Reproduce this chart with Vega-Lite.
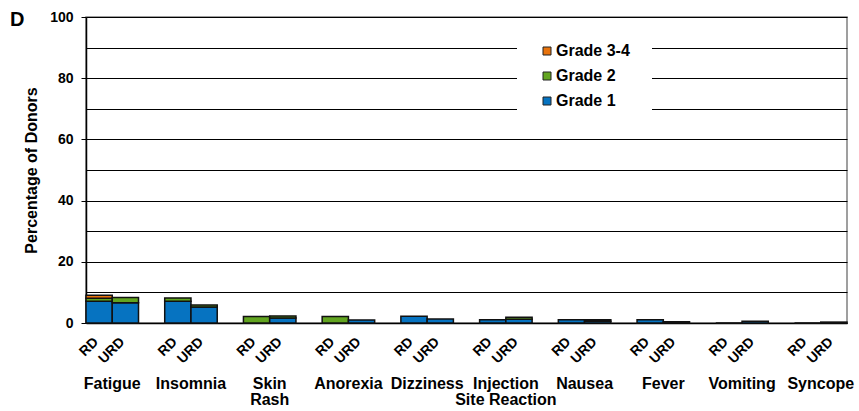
{
  "$schema": "https://vega.github.io/schema/vega-lite/v6.json",
  "width": 761,
  "height": 306,
  "autosize": "none",
  "padding": {"left": 86, "top": 17, "right": 12, "bottom": 88},
  "background": "white",
  "config": {
    "font": "Liberation Sans",
    "view": {"stroke": "#808080", "strokeWidth": 1.5}
  },
  "title": {
    "text": "D",
    "anchor": "start",
    "frame": "group",
    "font": "Liberation Sans",
    "fontSize": 20,
    "fontWeight": "bold",
    "color": "#000",
    "baseline": "alphabetic",
    "dx": -76,
    "dy": 40
  },
  "data": {
    "values": [
      {"cat": "Fatigue", "donor": "RD", "grade": "Grade 1", "value": 7.1},
      {"cat": "Fatigue", "donor": "RD", "grade": "Grade 2", "value": 1.0},
      {"cat": "Fatigue", "donor": "RD", "grade": "Grade 3-4", "value": 1.0},
      {"cat": "Fatigue", "donor": "URD", "grade": "Grade 1", "value": 6.6},
      {"cat": "Fatigue", "donor": "URD", "grade": "Grade 2", "value": 1.7},
      {"cat": "Insomnia", "donor": "RD", "grade": "Grade 1", "value": 7.1},
      {"cat": "Insomnia", "donor": "RD", "grade": "Grade 2", "value": 1.1},
      {"cat": "Insomnia", "donor": "URD", "grade": "Grade 1", "value": 5.2},
      {"cat": "Insomnia", "donor": "URD", "grade": "Grade 2", "value": 0.7},
      {"cat": "Skin Rash", "donor": "RD", "grade": "Grade 1", "value": 0},
      {"cat": "Skin Rash", "donor": "RD", "grade": "Grade 2", "value": 2.1},
      {"cat": "Skin Rash", "donor": "URD", "grade": "Grade 1", "value": 1.6},
      {"cat": "Skin Rash", "donor": "URD", "grade": "Grade 2", "value": 0.7},
      {"cat": "Anorexia", "donor": "RD", "grade": "Grade 1", "value": 0},
      {"cat": "Anorexia", "donor": "RD", "grade": "Grade 2", "value": 2.1},
      {"cat": "Anorexia", "donor": "URD", "grade": "Grade 1", "value": 1.0},
      {"cat": "Dizziness", "donor": "RD", "grade": "Grade 1", "value": 2.2},
      {"cat": "Dizziness", "donor": "URD", "grade": "Grade 1", "value": 1.3},
      {"cat": "Injection Site Reaction", "donor": "RD", "grade": "Grade 1", "value": 1.1},
      {"cat": "Injection Site Reaction", "donor": "URD", "grade": "Grade 1", "value": 1.2},
      {"cat": "Injection Site Reaction", "donor": "URD", "grade": "Grade 2", "value": 0.7},
      {"cat": "Nausea", "donor": "RD", "grade": "Grade 1", "value": 1.1},
      {"cat": "Nausea", "donor": "URD", "grade": "Grade 1", "value": 0.6},
      {"cat": "Nausea", "donor": "URD", "grade": "Grade 2", "value": 0.5},
      {"cat": "Fever", "donor": "RD", "grade": "Grade 1", "value": 1.1},
      {"cat": "Fever", "donor": "URD", "grade": "Grade 1", "value": 0.4},
      {"cat": "Vomiting", "donor": "RD", "grade": "Grade 1", "value": 0},
      {"cat": "Vomiting", "donor": "URD", "grade": "Grade 1", "value": 0.6},
      {"cat": "Syncope", "donor": "RD", "grade": "Grade 1", "value": 0},
      {"cat": "Syncope", "donor": "URD", "grade": "Grade 1", "value": 0.3}
    ]
  },
  "encoding": {
    "x": {
      "field": "cat",
      "type": "nominal",
      "sort": ["Fatigue", "Insomnia", "Skin Rash", "Anorexia", "Dizziness", "Injection Site Reaction", "Nausea", "Fever", "Vomiting", "Syncope"],
      "scale": {"paddingInner": 0.333, "paddingOuter": 0},
      "axis": {
        "title": null,
        "labelAngle": 0,
        "labelFontSize": 16,
        "labelFontWeight": "bold",
        "labelColor": "#000",
        "labelPadding": 52,
        "labelBaseline": "top",
        "labelLineHeight": 16,
        "labelOverlap": false,
        "labelLimit": 0,
        "labelBound": false,
        "ticks": false,
        "domainColor": "#000",
        "domainWidth": 1.5,
        "labelExpr": "datum.value == 'Skin Rash' ? ['Skin', 'Rash'] : datum.value == 'Injection Site Reaction' ? ['Injection', 'Site Reaction'] : datum.value"
      }
    },
    "xOffset": {
      "field": "donor",
      "type": "nominal",
      "sort": ["RD", "URD"],
      "scale": {"paddingInner": 0, "paddingOuter": 0}
    }
  },
  "layer": [
    {
      "transform": [{"filter": "datum.grade == 'Grade 1'"}],
      "mark": {
        "type": "text",
        "angle": -45,
        "align": "right",
        "baseline": "middle",
        "font": "Liberation Sans",
        "fontSize": 14,
        "fontWeight": "bold",
        "color": "#000",
        "dx": -14,
        "dy": 10
      },
      "encoding": {
        "y": {
          "datum": 0,
          "type": "quantitative",
          "scale": {"domain": [0, 100], "nice": false},
          "axis": {
            "orient": "left",
            "title": null,
            "values": [0, 10, 20, 30, 40, 50, 60, 70, 80, 90, 100],
            "labels": false,
            "ticks": false,
            "domain": false,
            "grid": true,
            "gridColor": "#000",
            "gridOpacity": 1,
            "gridWidth": 1
          }
        },
        "text": {"field": "donor"}
      }
    },
    {
      "mark": {"type": "bar", "stroke": "#111", "strokeWidth": 1.5},
      "encoding": {
        "y": {
          "field": "value",
          "type": "quantitative",
          "stack": "zero",
          "scale": {"domain": [0, 100], "nice": false},
          "axis": {
            "orient": "left",
            "title": "Percentage of Donors",
            "titleFontSize": 16,
            "titleFontWeight": "bold",
            "titleColor": "#000",
            "titlePadding": 10,
            "values": [0, 20, 40, 60, 80, 100],
            "labelFontSize": 14,
            "labelFontWeight": "bold",
            "labelColor": "#000",
            "labelPadding": 8,
            "tickSize": 5,
            "tickColor": "#000",
            "grid": false,
            "domainColor": "#000",
            "domainWidth": 1.5
          }
        },
        "color": {
          "field": "grade",
          "type": "nominal",
          "scale": {
            "domain": ["Grade 3-4", "Grade 2", "Grade 1"],
            "range": ["#E8730C", "#62A520", "#0673C1"]
          },
          "legend": {
            "title": null,
            "orient": "none",
            "legendX": 431,
            "legendY": 4,
            "fillColor": "white",
            "padding": 22,
            "symbolType": "square",
            "symbolSize": 64,
            "symbolStrokeColor": "#222",
            "symbolStrokeWidth": 1,
            "labelFontSize": 16,
            "labelFontWeight": "bold",
            "labelColor": "#000",
            "labelOffset": 1,
            "labelLimit": 300,
            "rowPadding": 9
          }
        },
        "order": {"field": "grade", "sort": "ascending"}
      }
    }
  ],
  "resolve": {"axis": {"y": "independent"}}
}
